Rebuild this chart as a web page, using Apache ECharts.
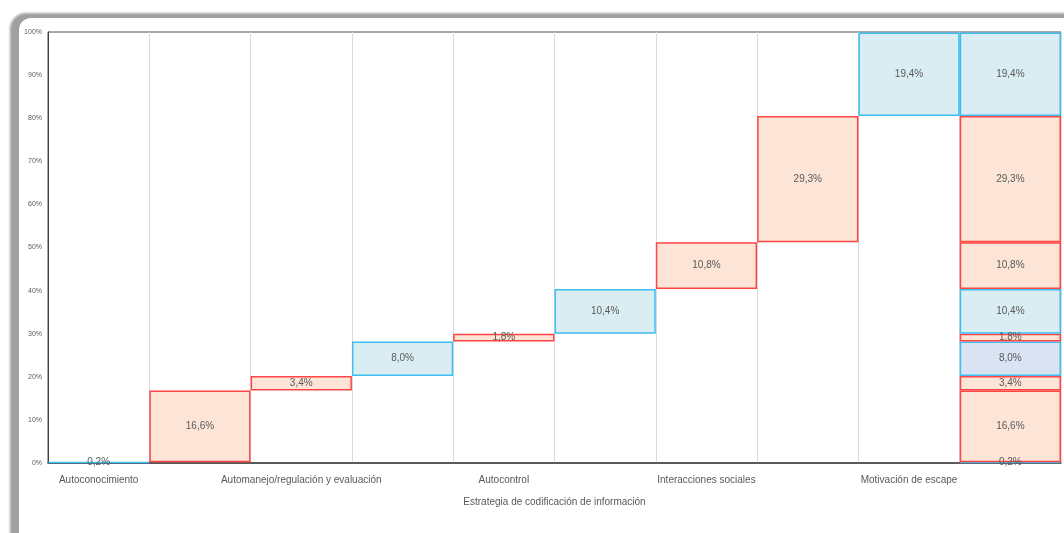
<!DOCTYPE html>
<html>
<head>
<meta charset="utf-8">
<script src="https://cdn.jsdelivr.net/npm/echarts@6/dist/echarts.min.js"></script>
<style>
  html, body { margin: 0; padding: 0; background: #fff; }
  #marco { position: absolute; left: 10px; top: 13px; width: 1200px; height: 700px;
           background: #a0a0a0; border-radius: 16px; filter: blur(1px); }
  #interior { position: absolute; left: 19px; top: 18px; width: 1200px; height: 700px;
              background: #fff; border-radius: 12px; }
  #main { position: absolute; left: 0; top: 0; width: 1064px; height: 533px; }
</style>
</head>
<body>
<div id="marco"></div>
<div id="interior"></div>
<div id="main"></div>
<script>
// categorias del eje x (solo se ven las pares en el original)
var categorias = ['Autoconocimiento', '', 'Automanejo/regulación y evaluación', '', 'Autocontrol', '',
                  'Interacciones sociales', '', 'Motivación de escape', ''];
// porcentaje de cada paso
var pasos = [0.2, 16.6, 3.4, 8.0, 1.8, 10.4, 10.8, 29.3, 19.4];
var tipos = ['azul', 'rojo', 'rojo', 'azul', 'rojo', 'azul', 'rojo', 'rojo', 'azul'];
var ticksY = [0, 10, 20, 30, 40, 50, 60, 70, 80, 90, 100];

var estilos = {
    azul: { color: '#daedf3', borderColor: '#3dbdf0' },
    rojo: { color: '#fce5d7', borderColor: '#ff4444' }
};
var fuente = "'Liberation Sans Narrow', 'Liberation Sans', sans-serif";

// base invisible (acumulado antes de cada paso)
var base = [];
var acum = 0;
for (var c = 0; c < categorias.length; c++) {
    if (c < pasos.length) { base.push(Number(acum.toFixed(1))); acum += pasos[c]; }
    else base.push(0);
}

var series = [{
    name: 'base',
    type: 'bar',
    stack: 'total',
    silent: true,
    itemStyle: { color: 'transparent', borderColor: 'transparent' },
    data: base
}];

pasos.forEach(function (v, i) {
    var est = estilos[tipos[i]];
    series.push({
        name: 'paso' + i,
        type: 'bar',
        stack: 'total',
        barCategoryGap: '0%',
        itemStyle: { color: est.color, borderColor: est.borderColor, borderWidth: 1.5 },
        label: {
            show: true,
            position: 'inside',
            color: '#595959',
            fontSize: 10,
            fontFamily: fuente,
            formatter: function (p) { return p.value.toFixed(1).replace('.', ',') + '%'; }
        },
        data: categorias.map(function (_, c) {
            if (c === i) return v;
            if (c === categorias.length - 1) {
                if (i === 3) return { value: v, itemStyle: { color: '#dae3f3' } };
                return v;
            }
            return '-';
        })
    });
});

var myChart = echarts.init(document.getElementById('main'));
option = {
    animation: false,
    grid: {
        left: 48, right: 3, top: 32, bottom: 70,
        show: true, borderColor: '#505050', borderWidth: 1, backgroundColor: 'transparent'
    },
    xAxis: {
        type: 'category',
        data: categorias,
        name: 'Estrategia de codificación de información',
        nameLocation: 'middle',
        nameGap: 34,
        nameTextStyle: { color: '#595959', fontSize: 10, fontFamily: fuente },
        axisLine: { lineStyle: { color: '#404040', width: 1.5 } },
        axisTick: { inside: true, length: 3, lineStyle: { color: '#404040' } },
        axisLabel: { interval: 0, color: '#595959', fontSize: 10, fontFamily: fuente, margin: 12 },
        splitLine: { show: true, lineStyle: { color: '#dcdcdc' } }
    },
    yAxis: {
        type: 'value',
        min: ticksY[0],
        max: ticksY[ticksY.length - 1],
        interval: 10,
        axisLine: { show: true, lineStyle: { color: '#404040' } },
        axisTick: { show: false },
        splitLine: { show: false },
        axisLabel: { color: '#595959', fontSize: 7, fontFamily: fuente, margin: 6,
                     formatter: '{value}%' }
    },
    series: series
};
myChart.setOption(option);
</script>
</body>
</html>
